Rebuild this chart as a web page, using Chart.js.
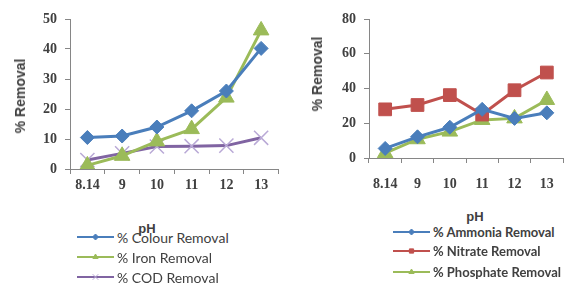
<!DOCTYPE html>
<html>
<head>
<meta charset="utf-8">
<script src="https://cdn.jsdelivr.net/npm/chart.js@4.4.1/dist/chart.umd.min.js"></script>
<style>
    body { margin: 0; background: #fff; width: 573px; height: 289px; position: relative; overflow: hidden; }
    .box { position: absolute; top: 0; height: 200px; }
    .txt { position: absolute; white-space: nowrap; color: #404040; transform: translate(-50%, -50%); }
    .ytitle { font: bold 14px "Liberation Sans", sans-serif; transform: translate(-50%, -50%) rotate(-90deg); }
    .ph { font: bold 13px "Liberation Sans", sans-serif; }
    .leg { position: absolute; display: flex; align-items: center; white-space: nowrap; color: #404040; }
    .leg canvas { margin-right: 3px; }
</style>
</head>
<body>
<div class="box" style="left:0;width:290px"><canvas id="leftChart"></canvas></div>
<div class="box" style="left:290px;width:283px"><canvas id="rightChart"></canvas></div>
<div class="txt ytitle" style="left:20px;top:96px">% Removal</div>
<div class="txt ytitle" style="left:317px;top:74px">% Removal</div>
<div class="txt ph" style="left:147px;top:228px">pH</div>
<div class="txt ph" style="left:475px;top:216px">pH</div>
<div id="leftLegend"></div>
<div id="rightLegend"></div>
<script>
// 數據
const phLabels = ['8.14', '9', '10', '11', '12', '13'];
const colourRemoval = [10.5, 11.0, 14.0, 19.4, 26.0, 40.2];
const ironRemoval = [1.2, 4.4, 9.2, 13.3, 23.8, 46.2];
const codRemoval = [3.0, 5.2, 7.5, 7.6, 7.8, 10.4];
const ammoniaRemoval = [5.5, 12.2, 17.7, 28.0, 22.8, 26.0];
const nitrateRemoval = [28.0, 30.5, 36.2, 25.0, 39.0, 49.2];
const phosphateRemoval = [2.8, 10.8, 15.2, 21.9, 22.8, 33.4];

const BLUE = '#4a7ebb', GREEN = '#9bbb59', PURPLE = '#8064a2', RED = '#c0504d';
const tickFont = { family: 'Liberation Serif', weight: 'bold', size: 14 };

function series(label, data, color, style, radius) {
    const cross = style === 'crossRot';
    return {
        label: label,
        data: data,
        borderColor: color,
        borderWidth: 3,
        pointStyle: style,
        pointRadius: radius,
        pointBackgroundColor: color,
        pointBorderColor: cross ? '#b9a9d6' : color,
        pointBorderWidth: cross ? 1.5 : 1,
        tension: 0
    };
}

function makeChart(id, datasets, yMax, yStep, area) {
    new Chart(document.getElementById(id), {
        type: 'line',
        data: { labels: phLabels, datasets: datasets },
        options: {
            responsive: true,
            maintainAspectRatio: false,
            animation: false,
            layout: { padding: { top: area.top, right: area.right, left: 0, bottom: 0 } },
            plugins: { legend: { display: false }, tooltip: { enabled: false } },
            scales: {
                x: {
                    offset: true,
                    grid: { offset: true, drawOnChartArea: false, color: '#868686', tickLength: 5 },
                    border: { color: '#868686' },
                    ticks: { color: '#404040', font: tickFont, padding: area.xPad, maxRotation: 0 },
                    afterFit: s => { s.height = 200 - area.bottom; }
                },
                y: {
                    min: 0, max: yMax,
                    grid: { drawOnChartArea: false, color: '#868686', tickLength: 5 },
                    border: { color: '#868686' },
                    ticks: { stepSize: yStep, color: '#404040', font: tickFont, padding: 8 },
                    afterFit: s => { s.width = area.left; }
                }
            }
        }
    });
}

makeChart('leftChart', [
    series('% Colour Removal', colourRemoval, BLUE, 'rectRot', 7),
    series('% Iron Removal', ironRemoval, GREEN, 'triangle', 9),
    series('% COD Removal', codRemoval, PURPLE, 'crossRot', 10)
], 50, 10, { left: 70, top: 19, right: 10, bottom: 169, xPad: 3 });

makeChart('rightChart', [
    series('% Ammonia Removal', ammoniaRemoval, BLUE, 'rectRot', 7),
    series('% Nitrate Removal', nitrateRemoval, RED, 'rect', 9),
    series('% Phosphate Removal', phosphateRemoval, GREEN, 'triangle', 9)
], 80, 20, { left: 79, top: 19, right: 0, bottom: 158, xPad: 13 });

// 圖例
function legend(id, items, x, ys, font) {
    const holder = document.getElementById(id);
    items.forEach((it, i) => {
        const row = document.createElement('div');
        row.className = 'leg';
        row.style.left = x + 'px';
        row.style.top = (ys[i] - 10) + 'px';
        row.style.height = '20px';
        row.style.font = font;
        const c = document.createElement('canvas');
        c.width = 37; c.height = 14;
        const ctx = c.getContext('2d');
        ctx.strokeStyle = it[1]; ctx.lineWidth = 2;
        ctx.beginPath(); ctx.moveTo(0, 7); ctx.lineTo(37, 7); ctx.stroke();
        ctx.fillStyle = it[1];
        ctx.strokeStyle = it[2] === 'crossRot' ? '#b9a9d6' : it[1];
        ctx.lineWidth = 1;
        Chart.helpers.drawPoint(ctx, { pointStyle: it[2], radius: it[2] === 'crossRot' ? 4 : 3, borderWidth: 1 }, 18.5, 7);
        row.appendChild(c);
        row.appendChild(document.createTextNode(it[0]));
        holder.appendChild(row);
    });
}

legend('leftLegend', [
    ['% Colour Removal', BLUE, 'rectRot'],
    ['% Iron Removal', GREEN, 'triangle'],
    ['% COD Removal', PURPLE, 'crossRot']
], 77, [237, 257, 277], '14px Lato, sans-serif');

legend('rightLegend', [
    ['% Ammonia Removal', BLUE, 'rectRot'],
    ['% Nitrate Removal', RED, 'rect'],
    ['% Phosphate Removal', GREEN, 'triangle']
], 393, [232, 251, 272], 'bold 13px Lato, sans-serif');
</script>
</body>
</html>
